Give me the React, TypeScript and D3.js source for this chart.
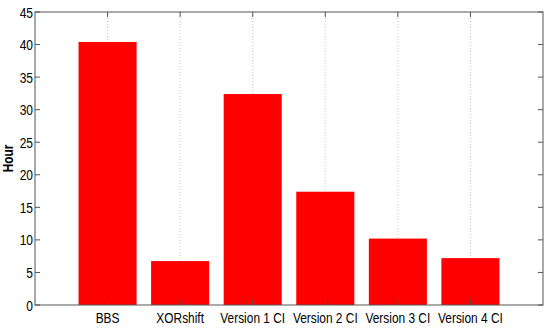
import React, { useEffect, useRef } from "react";
import * as d3 from "d3";

// categories and hours
const categories = ["BBS", "XORshift", "Version 1 CI", "Version 2 CI", "Version 3 CI", "Version 4 CI"];
const hours = [40.4, 6.75, 32.4, 17.4, 10.2, 7.2];
const yTicks = [0, 5, 10, 15, 20, 25, 30, 35, 40, 45];

const App = () => {
    const ref = useRef<SVGSVGElement>(null);

    useEffect(() => {
        const width = 550;
        const height = 329;
        const margin = { top: 12, right: 7, bottom: 24, left: 35 };
        const innerW = width - margin.left - margin.right;
        const innerH = height - margin.top - margin.bottom;

        const svg = d3.select(ref.current);
        svg.selectAll("*").remove();
        const g = svg.append("g").attr("transform", `translate(${margin.left},${margin.top})`);

        // matlab style: categories at 1..6, xlim [0, 7]
        const x = d3.scaleLinear().domain([0, categories.length + 1]).range([0, innerW]);
        const y = d3.scaleLinear().domain([0, 45]).range([innerH, 0]);
        const barW = (x(1) - x(0)) * 0.8;
        const axisColor = "#555";
        const font = "'Liberation Sans', Arial, sans-serif";

        // dotted grid lines
        categories.forEach((c, i) => {
            g.append("line")
                .attr("x1", x(i + 1)).attr("x2", x(i + 1))
                .attr("y1", 0).attr("y2", innerH)
                .attr("stroke", "#bbb")
                .attr("stroke-width", 0.8)
                .attr("stroke-dasharray", "1,2");
        });

        // bars
        hours.forEach((h, i) => {
            g.append("rect")
                .attr("x", x(i + 1) - barW / 2)
                .attr("y", y(h))
                .attr("width", barW)
                .attr("height", y(0) - y(h))
                .attr("fill", "#ff0000");
        });

        // box
        g.append("rect")
            .attr("width", innerW).attr("height", innerH)
            .attr("fill", "none")
            .attr("stroke", axisColor)
            .attr("stroke-width", 1);

        // y ticks (left + right, inward)
        yTicks.forEach((t) => {
            g.append("line").attr("x1", 0).attr("x2", 5).attr("y1", y(t)).attr("y2", y(t)).attr("stroke", axisColor);
            g.append("line").attr("x1", innerW).attr("x2", innerW - 5).attr("y1", y(t)).attr("y2", y(t)).attr("stroke", axisColor);
            g.append("g")
                .attr("transform", `translate(-2,${y(t) + 5.5}) scale(0.8,1)`)
                .append("text")
                .attr("text-anchor", "end")
                .style("font-family", font)
                .style("font-size", "15px")
                .attr("fill", "#000")
                .text(t);
        });

        // x ticks (bottom + top, inward) and labels
        categories.forEach((c, i) => {
            g.append("line").attr("x1", x(i + 1)).attr("x2", x(i + 1)).attr("y1", innerH).attr("y2", innerH - 5).attr("stroke", axisColor);
            g.append("line").attr("x1", x(i + 1)).attr("x2", x(i + 1)).attr("y1", 0).attr("y2", 5).attr("stroke", axisColor);
            g.append("g")
                .attr("transform", `translate(${x(i + 1)},${innerH + 18}) scale(0.85,1)`)
                .append("text")
                .attr("text-anchor", "middle")
                .style("font-family", font)
                .style("font-size", "14px")
                .attr("fill", "#000")
                .text(c);
        });

        // y axis label
        g.append("g")
            .attr("transform", `translate(${-22},${innerH / 2}) rotate(-90) scale(0.85,1)`)
            .append("text")
            .attr("text-anchor", "middle")
            .style("font-family", font)
            .style("font-size", "14px")
            .style("font-weight", "bold")
            .attr("fill", "#000")
            .text("Hour");
    }, []);

    return (
        <svg ref={ref} width={550} height={329}
            style={{ position: "absolute", left: 0, top: 0, background: "#fff" }} />
    );
};

export default App;
